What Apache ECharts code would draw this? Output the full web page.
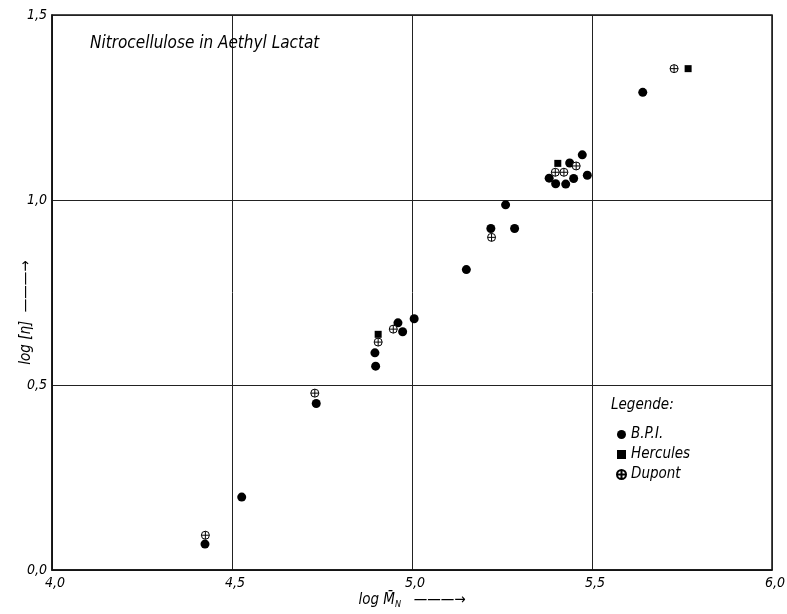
<!DOCTYPE html>
<html><head><meta charset="utf-8">
<script src="https://cdn.jsdelivr.net/npm/echarts@6/dist/echarts.min.js"></script>
<style>html,body{margin:0;padding:0;background:#fff}#c{width:787px;height:614px}</style>
</head><body><div id="c"></div>
<script>
// Data (log M_N, log [eta])
const bpiX = [4.425, 4.527, 4.734, 4.899, 4.897, 4.961, 4.974, 5.006, 5.151, 5.219, 5.285, 5.260, 5.381, 5.399, 5.427, 5.449, 5.487, 5.438, 5.473, 5.641];
const bpiY = [0.070, 0.197, 0.450, 0.551, 0.587, 0.668, 0.644, 0.679, 0.812, 0.923, 0.923, 0.987, 1.059, 1.044, 1.043, 1.058, 1.067, 1.100, 1.122, 1.291];
const herculesX = [4.906, 5.405, 5.767];
const herculesY = [0.637, 1.099, 1.355];
const dupontX = [4.426, 4.730, 4.906, 4.948, 5.221, 5.398, 5.422, 5.456, 5.728];
const dupontY = [0.094, 0.478, 0.616, 0.651, 0.899, 1.075, 1.075, 1.092, 1.355];
const xTicks = [4.0, 4.5, 5.0, 5.5, 6.0];
const yTicks = [0.0, 0.5, 1.0, 1.5];

const FONT = '"Liberation Sans Narrow","DejaVu Sans Condensed","DejaVu Sans",sans-serif';
const zip = (a, b) => a.map((v, i) => [v, b[i]]);
const fmt = v => v.toFixed(1).replace('.', ',');
const dupontPath = 'path://M10,5 A5,5 0 1,1 0,5 A5,5 0 1,1 10,5 Z M0,5 L10,5 M5,0 L5,10';

const chart = echarts.init(document.getElementById('c'), null, {renderer: 'canvas'});
chart.setOption({
  animation: false,
  backgroundColor: '#fff',
  grid: {left: 52, right: 15, top: 15, bottom: 44, containLabel: false, outerBoundsMode: 'none',
         show: true, borderColor: '#111', borderWidth: 1.5, backgroundColor: 'transparent'},
  title: {
    text: 'Nitrocellulose in Aethyl Lactat', left: 85, top: 30,
    textStyle: {fontFamily: FONT, fontStyle: 'italic', fontWeight: 'normal', fontSize: 17, color: '#000'}
  },
  legend: {
    orient: 'vertical', left: 611, top: 422, itemGap: 5, itemWidth: 9, itemHeight: 9,
    textStyle: {fontFamily: FONT, fontStyle: 'italic', fontSize: 15, color: '#000'},
    data: ['B.P.I.', 'Hercules', 'Dupont']
  },
  graphic: [{
    type: 'text', left: 611, top: 398,
    style: {text: 'Legende:', font: 'italic 15px ' + FONT, fill: '#000'}
  }],
  xAxis: {
    type: 'value', min: xTicks[0], max: xTicks[xTicks.length - 1], interval: 0.5,
    axisLine: {show: true, lineStyle: {color: '#111', width: 1.5}},
    axisTick: {show: false},
    splitLine: {show: true, lineStyle: {color: '#222', width: 1}},
    axisLabel: {formatter: fmt, fontFamily: FONT, fontStyle: 'italic', fontSize: 14, color: '#000', margin: 6, align: 'center', padding: [0, 0, 0, 6]},
    name: '{a|log M\u0304}{s|N}{a|   ———→}', nameLocation: 'middle', nameGap: 22, nameMoveOverlap: false,
    nameTextStyle: {
      rich: {
        a: {fontFamily: FONT, fontStyle: 'italic', fontSize: 15, color: '#000'},
        s: {fontFamily: FONT, fontStyle: 'italic', fontSize: 9, color: '#000', padding: [8, 0, 0, 0]}
      }
    }
  },
  yAxis: {
    type: 'value', min: yTicks[0], max: yTicks[yTicks.length - 1], interval: 0.5,
    axisLine: {show: true, lineStyle: {color: '#111', width: 1.5}},
    axisTick: {show: false},
    splitLine: {show: true, lineStyle: {color: '#222', width: 1}},
    axisLabel: {formatter: fmt, fontFamily: FONT, fontStyle: 'italic', fontSize: 14, color: '#000', margin: 5, verticalAlign: 'middle'},
    name: 'log [η]  ———→', nameLocation: 'middle', nameGap: 18, nameMoveOverlap: false,
    nameTextStyle: {fontFamily: FONT, fontStyle: 'italic', fontSize: 15, color: '#000', padding: [0, 0, 0, -40]}
  },
  series: [
    {name: 'B.P.I.', type: 'scatter', data: zip(bpiX, bpiY), symbol: 'circle', symbolSize: 9,
     itemStyle: {color: '#000', opacity: 1}},
    {name: 'Hercules', type: 'scatter', data: zip(herculesX, herculesY), symbol: 'rect', symbolSize: 7,
     itemStyle: {color: '#000', opacity: 1}},
    {name: 'Dupont', type: 'scatter', data: zip(dupontX, dupontY), symbol: dupontPath, symbolSize: 8, symbolKeepAspect: true,
     itemStyle: {color: '#fff', borderColor: '#000', borderWidth: 1, opacity: 1}, z: 3}
  ]
});
</script></body></html>
